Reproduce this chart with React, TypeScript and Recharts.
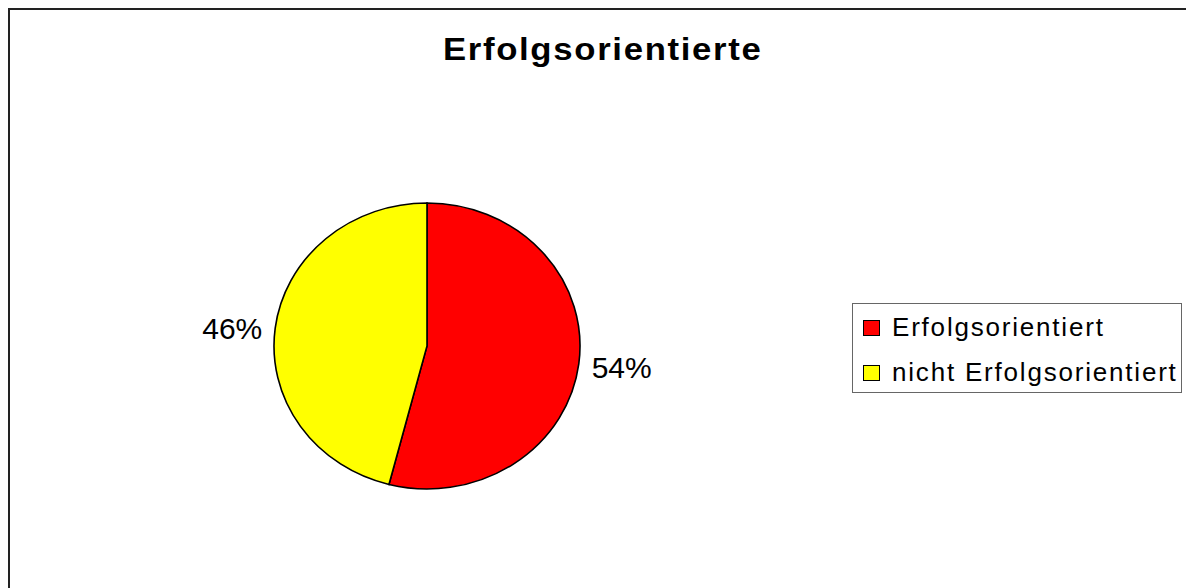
import { Cell, Legend, Pie, PieChart } from 'recharts'

const title = 'Erfolgsorientierte'
const categories = ['Erfolgsorientiert', 'nicht Erfolgsorientiert']
const values = [54, 46]
const colors = ['#FF0000', '#FFFF00']

const data = categories.map((name, i) => ({ name, value: values[i] }))

const FONT = '"Liberation Sans", Arial, sans-serif'
const RAD = Math.PI / 180
// the original pie is a little wider than tall
const STRETCH = 1.07
const CX = 417
const CY = 336

function renderLabel(props: any) {
  const { cx, cy, midAngle, outerRadius, percent } = props
  const c = Math.cos(-midAngle * RAD)
  const s = Math.sin(-midAngle * RAD)
  const x = cx + (outerRadius * STRETCH + 13) * c
  const y = cy + (outerRadius + 13) * s + 2
  return (
    <text
      x={x}
      y={y}
      textAnchor={c >= 0 ? 'start' : 'end'}
      dominantBaseline="central"
      fontFamily={FONT}
      fontSize={30}
      fill="#000"
    >
      {`${Math.round(percent * 100)}%`}
    </text>
  )
}

function LegendBox({ payload }: any) {
  return (
    <div
      style={{
        boxSizing: 'border-box',
        width: 330,
        height: 90,
        border: '1px solid #666',
        background: '#fff',
        paddingTop: 1,
        paddingLeft: 10,
      }}
    >
      {(payload ?? []).map((entry: any) => (
        <div key={entry.value} style={{ display: 'flex', alignItems: 'center', height: 45 }}>
          <span
            style={{
              display: 'inline-block',
              boxSizing: 'border-box',
              width: 17,
              height: 16,
              background: entry.color,
              border: '1px solid #000',
              marginRight: 12,
            }}
          />
          <span style={{ fontFamily: FONT, fontSize: 26, letterSpacing: 1.8, color: '#000', whiteSpace: 'nowrap' }}>
            {entry.value}
          </span>
        </div>
      ))}
    </div>
  )
}

export default function App() {
  return (
    <div
      className="pie-frame"
      style={{
        position: 'relative',
        boxSizing: 'border-box',
        width: 1186,
        height: 580,
        borderTop: '2px solid #222',
        borderLeft: '2px solid #222',
        background: '#fff',
      }}
    >
      <style>{`
        body { overflow: hidden; }
        .pie-frame .recharts-pie-sector { transform: scaleX(${STRETCH}); transform-origin: ${CX}px ${CY}px; }
      `}</style>
      <div
        style={{
          position: 'absolute',
          left: 0,
          top: 24,
          width: 1186,
          textAlign: 'center',
          fontFamily: FONT,
          fontWeight: 'bold',
          fontSize: 31,
          lineHeight: '31px',
          color: '#000',
        }}
      >
        <span style={{ display: 'inline-block', transform: 'scaleX(1.12)', letterSpacing: 1.5 }}>{title}</span>
      </div>
      <PieChart width={1184} height={578} margin={{ top: 0, right: 0, bottom: 0, left: 0 }}>
        <Pie
          data={data}
          dataKey="value"
          nameKey="name"
          cx={CX}
          cy={CY}
          outerRadius={143}
          startAngle={90}
          endAngle={-270}
          stroke="#000"
          strokeWidth={1.5}
          label={renderLabel}
          labelLine={false}
          isAnimationActive={false}
        >
          {data.map((d, i) => (
            <Cell key={d.name} fill={colors[i]} />
          ))}
        </Pie>
        <Legend
          layout="horizontal"
          align="center"
          verticalAlign="middle"
          content={<LegendBox />}
          wrapperStyle={{ left: 842, top: 293, width: 330, height: 90 }}
        />
      </PieChart>
    </div>
  )
}
